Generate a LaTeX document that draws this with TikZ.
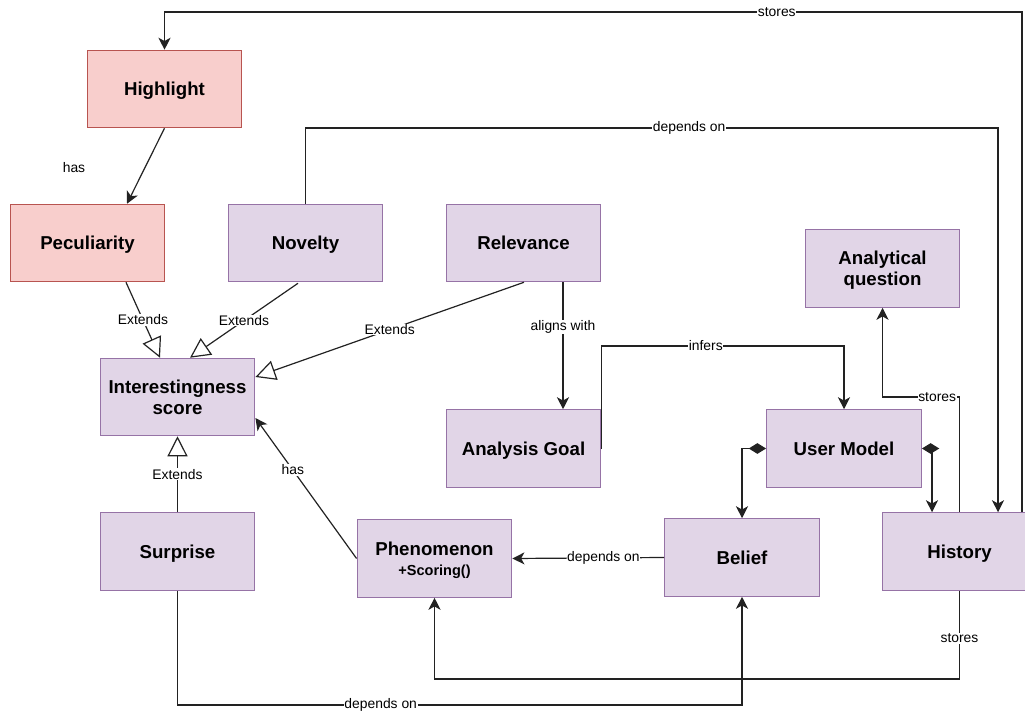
\documentclass[tikz,border=0pt]{standalone}
\usepackage{fontspec}
\setmainfont{Liberation Sans}
\usetikzlibrary{arrows.meta,calc}
\definecolor{pfill}{HTML}{E1D5E7}
\definecolor{pline}{HTML}{9673A6}
\definecolor{rfill}{HTML}{F8CECC}
\definecolor{rline}{HTML}{B85450}
\definecolor{wire}{HTML}{222222}
\tikzset{
  box/.style={draw=pline,fill=pfill,line width=0.9pt,minimum width=116pt,minimum height=58pt,
    align=center,font=\fontsize{14}{16}\selectfont\bfseries,inner sep=2pt,text depth=0pt},
  redbox/.style={box,draw=rline,fill=rfill},
  wirestyle/.style={draw=wire,line width=0.9pt},
  arr/.style={wirestyle,-{Stealth[length=9pt,width=9pt,inset=2.5pt]}},
  ext/.style={wirestyle,-{Triangle[open,length=15pt,width=15pt,fill=white]}},
  comp/.style={wirestyle,{Diamond[length=13pt,width=8pt]}-{Stealth[length=9pt,width=9pt,inset=2.5pt]}},
  lbl/.style={fill=white,inner sep=0.5pt,font=\fontsize{10.4}{12}\selectfont,text=black}
}
\begin{document}
\begin{tikzpicture}[x=0.75pt,y=-0.75pt]
\useasboundingbox (0,0) rectangle (1025,713);
\clip (0,0) rectangle (1025,713);
% nodes
\node[redbox] (hl) at (164.5,89) {Highlight};
\node[redbox] (pec) at (87.5,243) {Peculiarity};
\node[box] (nov) at (305.5,243) {Novelty};
\node[box] (rel) at (523.5,243) {Relevance};
\node[box] (aq) at (882.5,268.5) {Analytical\\question};
\node[box] (int) at (177.5,397) {Interestingness\\score};
\node[box] (ag) at (523.5,448.5) {Analysis Goal};
\node[box] (um) at (844,448.5) {User Model};
\node[box] (sur) at (177.5,551.5) {Surprise};
\node[box] (phen) at (434.5,558.5) {Phenomenon\\[-1pt]{\fontsize{10.9}{12}\selectfont\bfseries +Scoring()}};
\node[box] (bel) at (742,557.5) {Belief};
\node[box] (hist) at (959.5,551.5) {History};
% helper coordinates
\coordinate (ytop) at (0,12);
\coordinate (ydep) at (0,128);
\coordinate (yinf) at (0,346);
\coordinate (ysto) at (0,397);
\coordinate (ybot1) at (0,679);
\coordinate (ybot2) at (0,705);
\coordinate (hA) at ($(hist.north)+(62.5,0)$);
\coordinate (hB) at ($(hist.north)+(38.5,0)$);
\coordinate (hC) at ($(hist.north)+(-27.5,0)$);
% connectors
\draw[arr] (hA) -- (hA |- ytop) -- node[lbl,pos=0.286] {stores} (hl.north |- ytop) -- (hl.north);
\draw[arr] (nov.north) -- (nov.north |- ydep) -- node[lbl,pos=0.554] {depends on} (hB |- ydep) -- (hB);
\draw[arr] (hl.south) -- ($(pec.north)+(39.5,0)$);
\node[lbl] (haslbl) at (74,168) {has};
\draw[ext] ($(pec.south)+(38.5,0)$) -- node[lbl] {Extends} ($(int.north)+(-17.5,0)$);
\draw[ext] ($(nov.south)+(-7.5,1)$) -- node[lbl] {Extends} ($(int.north)+(12.5,0)$);
\draw[ext] ($(rel.south)+(0.5,0)$) -- node[lbl] {Extends} ($(int.east)+(0,-20)$);
\draw[ext] (sur.north) -- node[lbl] {Extends} (int.south);
\draw[arr] (phen.west) -- node[lbl,pos=0.63] {has} ($(int.east)+(0,21)$);
\draw[arr] ($(rel.south)+(39.5,0)$) -- node[lbl,pos=0.35] {aligns with} ($(ag.north)+(39.5,0)$);
\draw[arr] (ag.east) -- (ag.east |- yinf) -- node[lbl,pos=0.43] {infers} (um.north |- yinf) -- (um.north);
\draw[arr] (hist.north) -- (hist.north |- ysto) -- node[lbl,pos=0.29] {stores} (aq.south |- ysto) -- (aq.south);
\draw[comp] (um.west) -| (bel.north);
\draw[comp] (um.east) -| (hC);
\draw[arr] (bel.west) -- node[lbl,pos=0.4] {depends on} (phen.east);
\draw[arr] (hist.south) -- node[lbl,pos=0.54] {stores} (hist.south |- ybot1) -- (phen.south |- ybot1) -- (phen.south);
\draw[arr] (sur.south) -- (sur.south |- ybot2) -- node[lbl,pos=0.36] {depends on} (bel.south |- ybot2) -- (bel.south);
\end{tikzpicture}
\end{document}
